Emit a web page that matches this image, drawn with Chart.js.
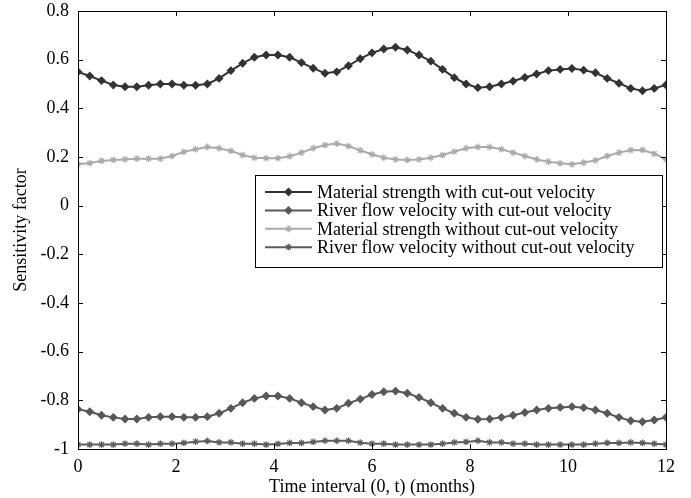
<!DOCTYPE html>
<html>
<head>
<meta charset="utf-8">
<script src="https://cdn.jsdelivr.net/npm/chart.js@4"></script>
<style>
  html, body { margin: 0; padding: 0; background: #fff; }
  #wrap { width: 691px; height: 498px; }
</style>
</head>
<body>
<div id="wrap"><canvas id="sens" width="691" height="498"></canvas></div>
<script>
// time steps (months)
const months = [0, 0.24, 0.48, 0.72, 0.96, 1.2, 1.44, 1.68, 1.92, 2.16, 2.4, 2.64, 2.88, 3.12, 3.36, 3.6, 3.84,
  4.08, 4.32, 4.56, 4.8, 5.04, 5.28, 5.52, 5.76, 6, 6.24, 6.48, 6.72, 6.96, 7.2, 7.44, 7.68, 7.92, 8.16, 8.4,
  8.64, 8.88, 9.12, 9.36, 9.6, 9.84, 10.08, 10.32, 10.56, 10.8, 11.04, 11.28, 11.52, 11.76, 12];

const strengthWithCut = [0.55, 0.533, 0.514, 0.496, 0.489, 0.489, 0.495, 0.5, 0.5, 0.495, 0.495, 0.5, 0.523,
  0.555, 0.585, 0.61, 0.619, 0.619, 0.61, 0.588, 0.565, 0.544, 0.55, 0.575, 0.604, 0.628, 0.644, 0.651, 0.64,
  0.619, 0.594, 0.56, 0.526, 0.5, 0.485, 0.489, 0.5, 0.512, 0.527, 0.541, 0.555, 0.56, 0.564, 0.557, 0.546,
  0.523, 0.503, 0.482, 0.472, 0.482, 0.496];

const flowWithCut = [-0.837, -0.847, -0.861, -0.870, -0.877, -0.877, -0.870, -0.867, -0.867, -0.870, -0.870,
  -0.867, -0.853, -0.833, -0.810, -0.792, -0.782, -0.782, -0.792, -0.810, -0.826, -0.840, -0.833, -0.812,
  -0.795, -0.776, -0.765, -0.762, -0.771, -0.788, -0.810, -0.833, -0.853, -0.870, -0.878, -0.877, -0.870,
  -0.861, -0.850, -0.840, -0.833, -0.829, -0.826, -0.830, -0.840, -0.853, -0.870, -0.884, -0.888, -0.881, -0.870];

const strengthNoCut = [0.170, 0.175, 0.184, 0.188, 0.190, 0.193, 0.193, 0.193, 0.204, 0.221, 0.232, 0.241,
  0.236, 0.225, 0.208, 0.197, 0.195, 0.195, 0.203, 0.218, 0.236, 0.249, 0.255, 0.245, 0.227, 0.211, 0.197,
  0.190, 0.188, 0.190, 0.197, 0.208, 0.222, 0.236, 0.241, 0.241, 0.232, 0.218, 0.204, 0.190, 0.181, 0.174,
  0.170, 0.177, 0.186, 0.204, 0.218, 0.228, 0.229, 0.214, 0.190];

const flowNoCut = [-0.982, -0.982, -0.982, -0.982, -0.978, -0.978, -0.982, -0.978, -0.978, -0.975, -0.970,
  -0.967, -0.973, -0.973, -0.978, -0.978, -0.982, -0.979, -0.975, -0.975, -0.971, -0.966, -0.966, -0.966,
  -0.974, -0.978, -0.978, -0.982, -0.982, -0.982, -0.982, -0.978, -0.973, -0.971, -0.966, -0.973, -0.973,
  -0.978, -0.978, -0.982, -0.982, -0.982, -0.982, -0.982, -0.978, -0.975, -0.975, -0.973, -0.975, -0.978, -0.982];

const seriesNames = [
  'Material strength with cut-out velocity',
  'River flow velocity with cut-out velocity',
  'Material strength without cut-out velocity',
  'River flow velocity without cut-out velocity'
];
const xTicks = [0, 2, 4, 6, 8, 10, 12];
const FONT = '"Liberation Serif", "Times New Roman", serif';

function pts(vals) { return vals.map((v, i) => ({ x: months[i], y: v })); }

function line(label, vals, color, style, r) {
  return {
    label, data: pts(vals),
    borderColor: color, backgroundColor: color,
    borderWidth: 2, pointStyle: style, pointRadius: r,
    pointBorderColor: color, pointBackgroundColor: color, pointBorderWidth: 1.2,
    tension: 0
  };
}

// box frame + inward ticks on all four sides
const framePlugin = {
  id: 'frame',
  afterDraw(chart) {
    const { ctx, chartArea: a, scales: { x, y } } = chart;
    ctx.save();
    ctx.strokeStyle = '#000';
    ctx.lineWidth = 1;
    ctx.strokeRect(a.left + 0.5, a.top + 0.5, a.right - a.left, a.bottom - a.top);
    ctx.beginPath();
    x.ticks.forEach(t => {
      const px = Math.round(x.getPixelForValue(t.value)) + 0.5;
      ctx.moveTo(px, a.bottom); ctx.lineTo(px, a.bottom - 5);
      ctx.moveTo(px, a.top); ctx.lineTo(px, a.top + 5);
    });
    y.ticks.forEach(t => {
      const py = Math.round(y.getPixelForValue(t.value)) + 0.5;
      ctx.moveTo(a.left, py); ctx.lineTo(a.left + 5, py);
      ctx.moveTo(a.right, py); ctx.lineTo(a.right - 5, py);
    });
    ctx.stroke();
    ctx.restore();
  }
};

// legend box inside the plot
const boxLegend = {
  id: 'boxLegend',
  afterDraw(chart) {
    const ctx = chart.ctx;
    const bx = 255, by = 175, bw = 407, bh = 92;
    ctx.save();
    ctx.fillStyle = '#fff';
    ctx.fillRect(bx, by, bw, bh);
    ctx.strokeStyle = '#000';
    ctx.lineWidth = 1;
    ctx.strokeRect(bx + 0.5, by + 0.5, bw, bh);
    ctx.font = '18px ' + FONT;
    ctx.textBaseline = 'middle';
    chart.data.datasets.forEach((ds, i) => {
      const cy = by + 17 + i * 18.4;
      ctx.strokeStyle = ds.borderColor;
      ctx.fillStyle = ds.borderColor;
      ctx.lineWidth = ds.borderWidth;
      ctx.beginPath(); ctx.moveTo(265, cy); ctx.lineTo(312, cy); ctx.stroke();
      ctx.lineWidth = ds.pointBorderWidth;
      Chart.helpers.drawPoint(ctx, {
        pointStyle: ds.pointStyle, radius: ds.pointRadius, borderWidth: ds.pointBorderWidth
      }, 288.5, cy);
      ctx.fillStyle = '#000';
      ctx.fillText(ds.label, 317, cy + 1);
    });
    ctx.restore();
  }
};

new Chart(document.getElementById('sens'), {
  type: 'line',
  data: {
    datasets: [
      line(seriesNames[0], strengthWithCut, '#333333', 'rectRot', 3.6),
      line(seriesNames[1], flowWithCut, '#585858', 'rectRot', 3.6),
      line(seriesNames[2], strengthNoCut, '#aaaaaa', 'star', 3.4),
      line(seriesNames[3], flowNoCut, '#5c5c5c', 'star', 3.4)
    ]
  },
  options: {
    responsive: false,
    animation: false,
    devicePixelRatio: 1,
    layout: { padding: { top: 11, right: 25, left: 0, bottom: 0 } },
    plugins: { legend: { display: false }, tooltip: { enabled: false } },
    scales: {
      x: {
        type: 'linear', min: 0, max: 12,
        afterBuildTicks(s) { s.ticks = xTicks.map(v => ({ value: v })); },
        afterFit(s) { s.height = 49; s.paddingLeft = 0; s.paddingRight = 0; },
        grid: { display: false, drawTicks: false },
        border: { display: false },
        ticks: { color: '#000', padding: 7, font: { family: FONT, size: 18 } },
        title: { display: true, text: 'Time interval (0, t) (months)', color: '#000',
          padding: { top: 0, bottom: 0 }, font: { family: FONT, size: 18 } }
      },
      y: {
        min: -1, max: 0.8,
        afterFit(s) { s.width = 78; s.paddingTop = 0; s.paddingBottom = 0; },
        grid: { display: false, drawTicks: false },
        border: { display: false },
        ticks: { stepSize: 0.2, color: '#000', padding: 9, font: { family: FONT, size: 18 },
          callback: v => String(Number(v.toFixed(1))) },
        title: { display: true, text: 'Sensitivity factor', color: '#000',
          padding: { top: 10, bottom: 0 }, font: { family: FONT, size: 18 } }
      }
    }
  },
  plugins: [framePlugin, boxLegend]
});
</script>
</body>
</html>
